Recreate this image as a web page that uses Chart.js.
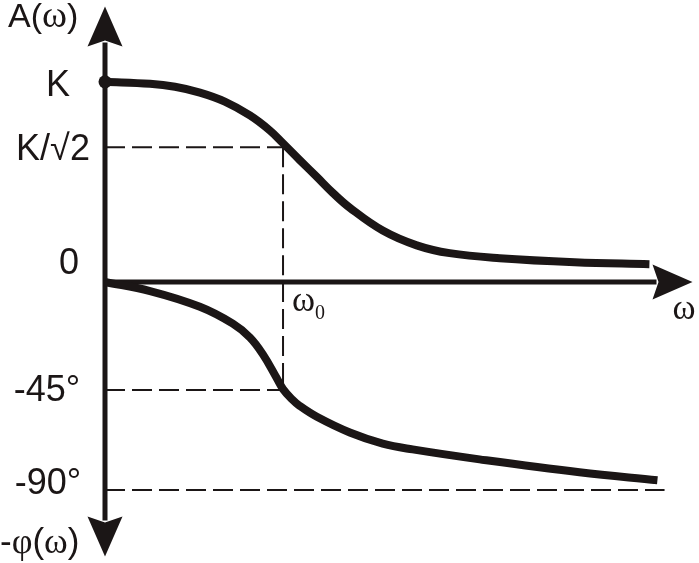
<!DOCTYPE html>
<html><head><meta charset="utf-8">
<script src="https://cdn.jsdelivr.net/npm/chart.js@4/dist/chart.umd.min.js"></script>
<style>html,body{margin:0;padding:0;background:#fff}canvas{display:block}</style>
</head><body>
<canvas id="c" width="699" height="563"></canvas>
<script>
// ---- data ----
// amplitude A(ω) in units of K, against ω in units of ω0
const ampOmega  = [0, 0.253, 0.393, 0.533, 0.673, 0.814, 0.926, 1.0, 1.094, 1.190, 1.279, 1.375, 1.560, 1.751, 1.936, 2.217, 2.638, 3.058];
const ampValues = [1.0, 0.990, 0.975, 0.946, 0.901, 0.832, 0.757, 0.693, 0.609, 0.525, 0.446, 0.371, 0.257, 0.183, 0.144, 0.119, 0.099, 0.089];
// phase -φ(ω) in degrees
const phaseOmega  = [0, 0.253, 0.533, 0.718, 0.814, 0.887, 0.965, 1.0, 1.049, 1.094, 1.190, 1.375, 1.560, 1.728, 2.104, 2.665, 3.103];
const phaseValues = [0, -3.9, -10.7, -18.0, -24.0, -31.3, -41.6, -46.3, -50.6, -53.6, -58.3, -65.1, -69.9, -72.4, -76.7, -82.3, -85.7];
const omega0 = 1;
const omegaEnd = 3.143;
const ampTickValues = [1, 0.673, 0];
const ampTickLabels = ['K', 'K/√2', '0'];
const phaseTickValues = [-46.7, -90];
const phaseTickLabels = ['-45°', '-90°'];

// ---- styles ----
const INK = '#1b1616';
const SANS = '"Liberation Sans", Arial, sans-serif';
const SERIF = '"Liberation Serif", "Times New Roman", serif';
const ampLabelStyle = [{dx: -47, dy: 14}, {dx: -52, dy: 13}, {dx: -36, dy: -8}];
const phaseLabelStyle = [{dx: -58, dy: 11}, {dx: -57, dy: 4}];

const pts = (xs, ys) => xs.map((x, i) => ({x, y: ys[i]}));
const dashed = (data, axis) => ({
  data, yAxisID: axis, borderColor: INK, borderWidth: 2, borderDash: [20, 7],
  pointRadius: 0, fill: false, clip: false, tension: 0
});

function arrow(ctx, tx, ty, dx, dy) {
  const L = 40, W = 17.5, N = 6;
  const px = -dy, py = dx;
  const bx = tx - dx * L, by = ty - dy * L;
  ctx.beginPath();
  ctx.moveTo(tx, ty);
  ctx.lineTo(bx + px * W, by + py * W);
  ctx.lineTo(tx - dx * (L - N), ty - dy * (L - N));
  ctx.lineTo(bx - px * W, by - py * W);
  ctx.closePath();
  ctx.fill();
}

function runs(ctx, list, x, y) {
  let cx = x;
  for (const r of list) {
    ctx.font = r.f;
    ctx.fillText(r.t, cx, y + (r.dy || 0));
    cx += ctx.measureText(r.t).width;
  }
}

const axesPlugin = {
  id: 'axesArrows',
  beforeDatasetsDraw(chart) {
    const {ctx, chartArea: ca, scales} = chart;
    const x0 = scales.x.getPixelForValue(0);
    const y0 = scales.yA.getPixelForValue(0);
    ctx.save();
    ctx.strokeStyle = INK; ctx.fillStyle = INK; ctx.lineWidth = 5; ctx.lineCap = 'butt';
    ctx.beginPath();
    ctx.moveTo(x0, ca.top + 36); ctx.lineTo(x0, ca.bottom - 36);
    ctx.moveTo(x0 - 2.5, y0); ctx.lineTo(ca.right - 36, y0);
    ctx.stroke();
    arrow(ctx, x0, ca.top, 0, -1);
    arrow(ctx, x0, ca.bottom, 0, 1);
    arrow(ctx, ca.right, y0, 1, 0);
    ctx.restore();
  },
  afterDraw(chart) {
    const {ctx, chartArea: ca, scales} = chart;
    const x0 = scales.x.getPixelForValue(0);
    ctx.save();
    ctx.fillStyle = INK;
    ctx.textBaseline = 'alphabetic';
    ctx.textAlign = 'center';
    ctx.font = '36px ' + SANS;
    ampTickLabels.forEach((t, i) => {
      const y = scales.yA.getPixelForValue(ampTickValues[i]);
      ctx.fillText(t, x0 + ampLabelStyle[i].dx, y + ampLabelStyle[i].dy);
    });
    phaseTickLabels.forEach((t, i) => {
      const y = scales.yP.getPixelForValue(phaseTickValues[i]);
      ctx.fillText(t, x0 + phaseLabelStyle[i].dx, y + phaseLabelStyle[i].dy);
    });
    ctx.textAlign = 'left';
    runs(ctx, [{t: 'A(', f: '34px ' + SANS}, {t: 'ω', f: '38px ' + SERIF}, {t: ')', f: '34px ' + SANS}], 8, 27);
    runs(ctx, [{t: '-', f: '35px ' + SANS}, {t: 'φ', f: '36px ' + SERIF}, {t: '(', f: '35px ' + SANS},
               {t: 'ω', f: '36px ' + SERIF}, {t: ')', f: '35px ' + SANS}], 0, 553);
    const xw0 = scales.x.getPixelForValue(omega0);
    const yax = scales.yA.getPixelForValue(0);
    runs(ctx, [{t: 'ω', f: '35px ' + SERIF}, {t: '0', f: '20px ' + SERIF, dy: 8}], xw0 + 9, yax + 29);
    ctx.font = '35px ' + SERIF;
    ctx.fillText('ω', ca.right - 20, yax + 37);
    ctx.restore();
  }
};

new Chart(document.getElementById('c'), {
  type: 'line',
  data: {
    datasets: [
      {data: pts(ampOmega, ampValues), yAxisID: 'yA', borderColor: INK, borderWidth: 8,
       tension: 0.4, borderCapStyle: 'butt', fill: false, clip: false,
       pointRadius: c => c.dataIndex === 0 ? 6.5 : 0, pointBackgroundColor: INK, pointBorderWidth: 0},
      {data: pts(phaseOmega, phaseValues), yAxisID: 'yP', borderColor: INK, borderWidth: 8,
       tension: 0.4, borderCapStyle: 'butt', fill: false, clip: false, pointRadius: 0},
      dashed([{x: 0, y: ampTickValues[1]}, {x: omega0, y: ampTickValues[1]}], 'yA'),
      dashed([{x: omega0, y: ampTickValues[1]}, {x: omega0, y: 0}], 'yA'),
      dashed([{x: omega0, y: 0}, {x: omega0, y: phaseTickValues[0]}], 'yP'),
      dashed([{x: 0, y: phaseTickValues[0]}, {x: omega0, y: phaseTickValues[0]}], 'yP'),
      dashed([{x: 0, y: phaseTickValues[1]}, {x: omegaEnd, y: phaseTickValues[1]}], 'yP')
    ]
  },
  options: {
    responsive: false, animation: false, events: [],
    layout: {padding: {left: 105, right: 6, top: 5, bottom: 3}},
    plugins: {legend: {display: false}, tooltip: {enabled: false}, title: {display: false}},
    scales: {
      x: {type: 'linear', min: 0, max: 3.3, bounds: 'data', display: false},
      yA: {type: 'linear', min: -1.3713, max: 1.3762, bounds: 'data', display: false},
      yP: {type: 'linear', min: -118.71, max: 119.14, bounds: 'data', display: false}
    }
  },
  plugins: [axesPlugin]
});
</script>
</body></html>
